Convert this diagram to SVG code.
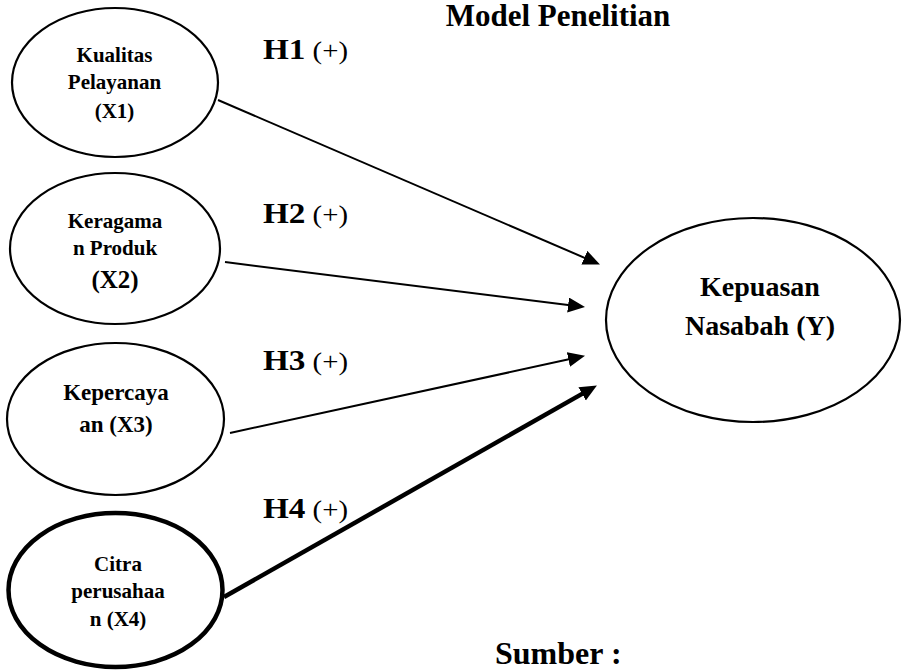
<svg xmlns="http://www.w3.org/2000/svg" width="902" height="670" viewBox="0 0 902 670">
<style>
.node{fill:#fff;stroke:#000;stroke-width:2.2}
.thick{stroke-width:4.5}
.t{font-family:"Liberation Serif","Times New Roman",serif;font-weight:bold;fill:#000;text-anchor:middle}
.lbl{font-family:"Liberation Serif","Times New Roman",serif;fill:#000;font-size:26px}
.conn{stroke:#000;stroke-width:2;fill:none}
</style>
<defs>
<marker id="ah" markerUnits="userSpaceOnUse" markerWidth="19" markerHeight="16" refX="4" refY="7.5" orient="auto">
<path d="M0,0 L17,7.5 L0,15 z" fill="#000"/>
</marker>
</defs>
<rect width="902" height="670" fill="#fff"/>
<text class="t" x="558" y="26" font-size="31">Model Penelitian</text>
<g id="x1">
<ellipse class="node" cx="115" cy="82.5" rx="103" ry="74.5"/>
<text class="t" font-size="21" x="114.5" y="62">Kualitas</text>
<text class="t" font-size="21" x="114.5" y="89">Pelayanan</text>
<text class="t" font-size="21" x="114.5" y="118">(X1)</text>
</g>
<g id="x2">
<ellipse class="node" cx="115" cy="248.5" rx="105" ry="75.5"/>
<text class="t" font-size="21" x="115" y="228">Keragama</text>
<text class="t" font-size="21" x="115" y="255">n Produk</text>
<text class="t" font-size="25" x="115" y="288">(X2)</text>
</g>
<g id="x3">
<ellipse class="node" cx="115.5" cy="419" rx="108.5" ry="76"/>
<text class="t" font-size="23" x="116" y="400">Kepercaya</text>
<text class="t" font-size="23" x="116" y="432">an (X3)</text>
</g>
<g id="x4">
<ellipse class="node thick" cx="115.5" cy="590" rx="107" ry="77"/>
<text class="t" font-size="21" x="118" y="571">Citra</text>
<text class="t" font-size="21" x="118" y="598">perusahaa</text>
<text class="t" font-size="21" x="118" y="626">n (X4)</text>
</g>
<g id="y">
<ellipse class="node" cx="753" cy="320" rx="147" ry="102"/>
<text class="t" font-size="28" x="760" y="296">Kepuasan</text>
<text class="t" font-size="28" x="760" y="335">Nasabah (Y)</text>
</g>
<g id="connectors">
<line class="conn" x1="218" y1="100" x2="588" y2="259.3" marker-end="url(#ah)"/>
<line class="conn" x1="225" y1="262" x2="572.1" y2="305.5" marker-end="url(#ah)"/>
<line class="conn" x1="230" y1="433" x2="572.3" y2="358.6" marker-end="url(#ah)"/>
<line class="conn" style="stroke-width:4.5" x1="224" y1="597" x2="585.6" y2="391.9" marker-end="url(#ah)"/>
</g>
<g id="labels">
<text class="lbl" x="263" y="59" textLength="85" lengthAdjust="spacingAndGlyphs"><tspan font-weight="bold" font-size="30">H1</tspan> (+)</text>
<text class="lbl" x="263" y="223" textLength="85" lengthAdjust="spacingAndGlyphs"><tspan font-weight="bold" font-size="30">H2</tspan> (+)</text>
<text class="lbl" x="263" y="370" textLength="85" lengthAdjust="spacingAndGlyphs"><tspan font-weight="bold" font-size="30">H3</tspan> (+)</text>
<text class="lbl" x="263" y="518" textLength="85" lengthAdjust="spacingAndGlyphs"><tspan font-weight="bold" font-size="30">H4</tspan> (+)</text>
</g>
<text class="t" x="495" y="664" font-size="32" style="text-anchor:start">Sumber :</text>
</svg>
